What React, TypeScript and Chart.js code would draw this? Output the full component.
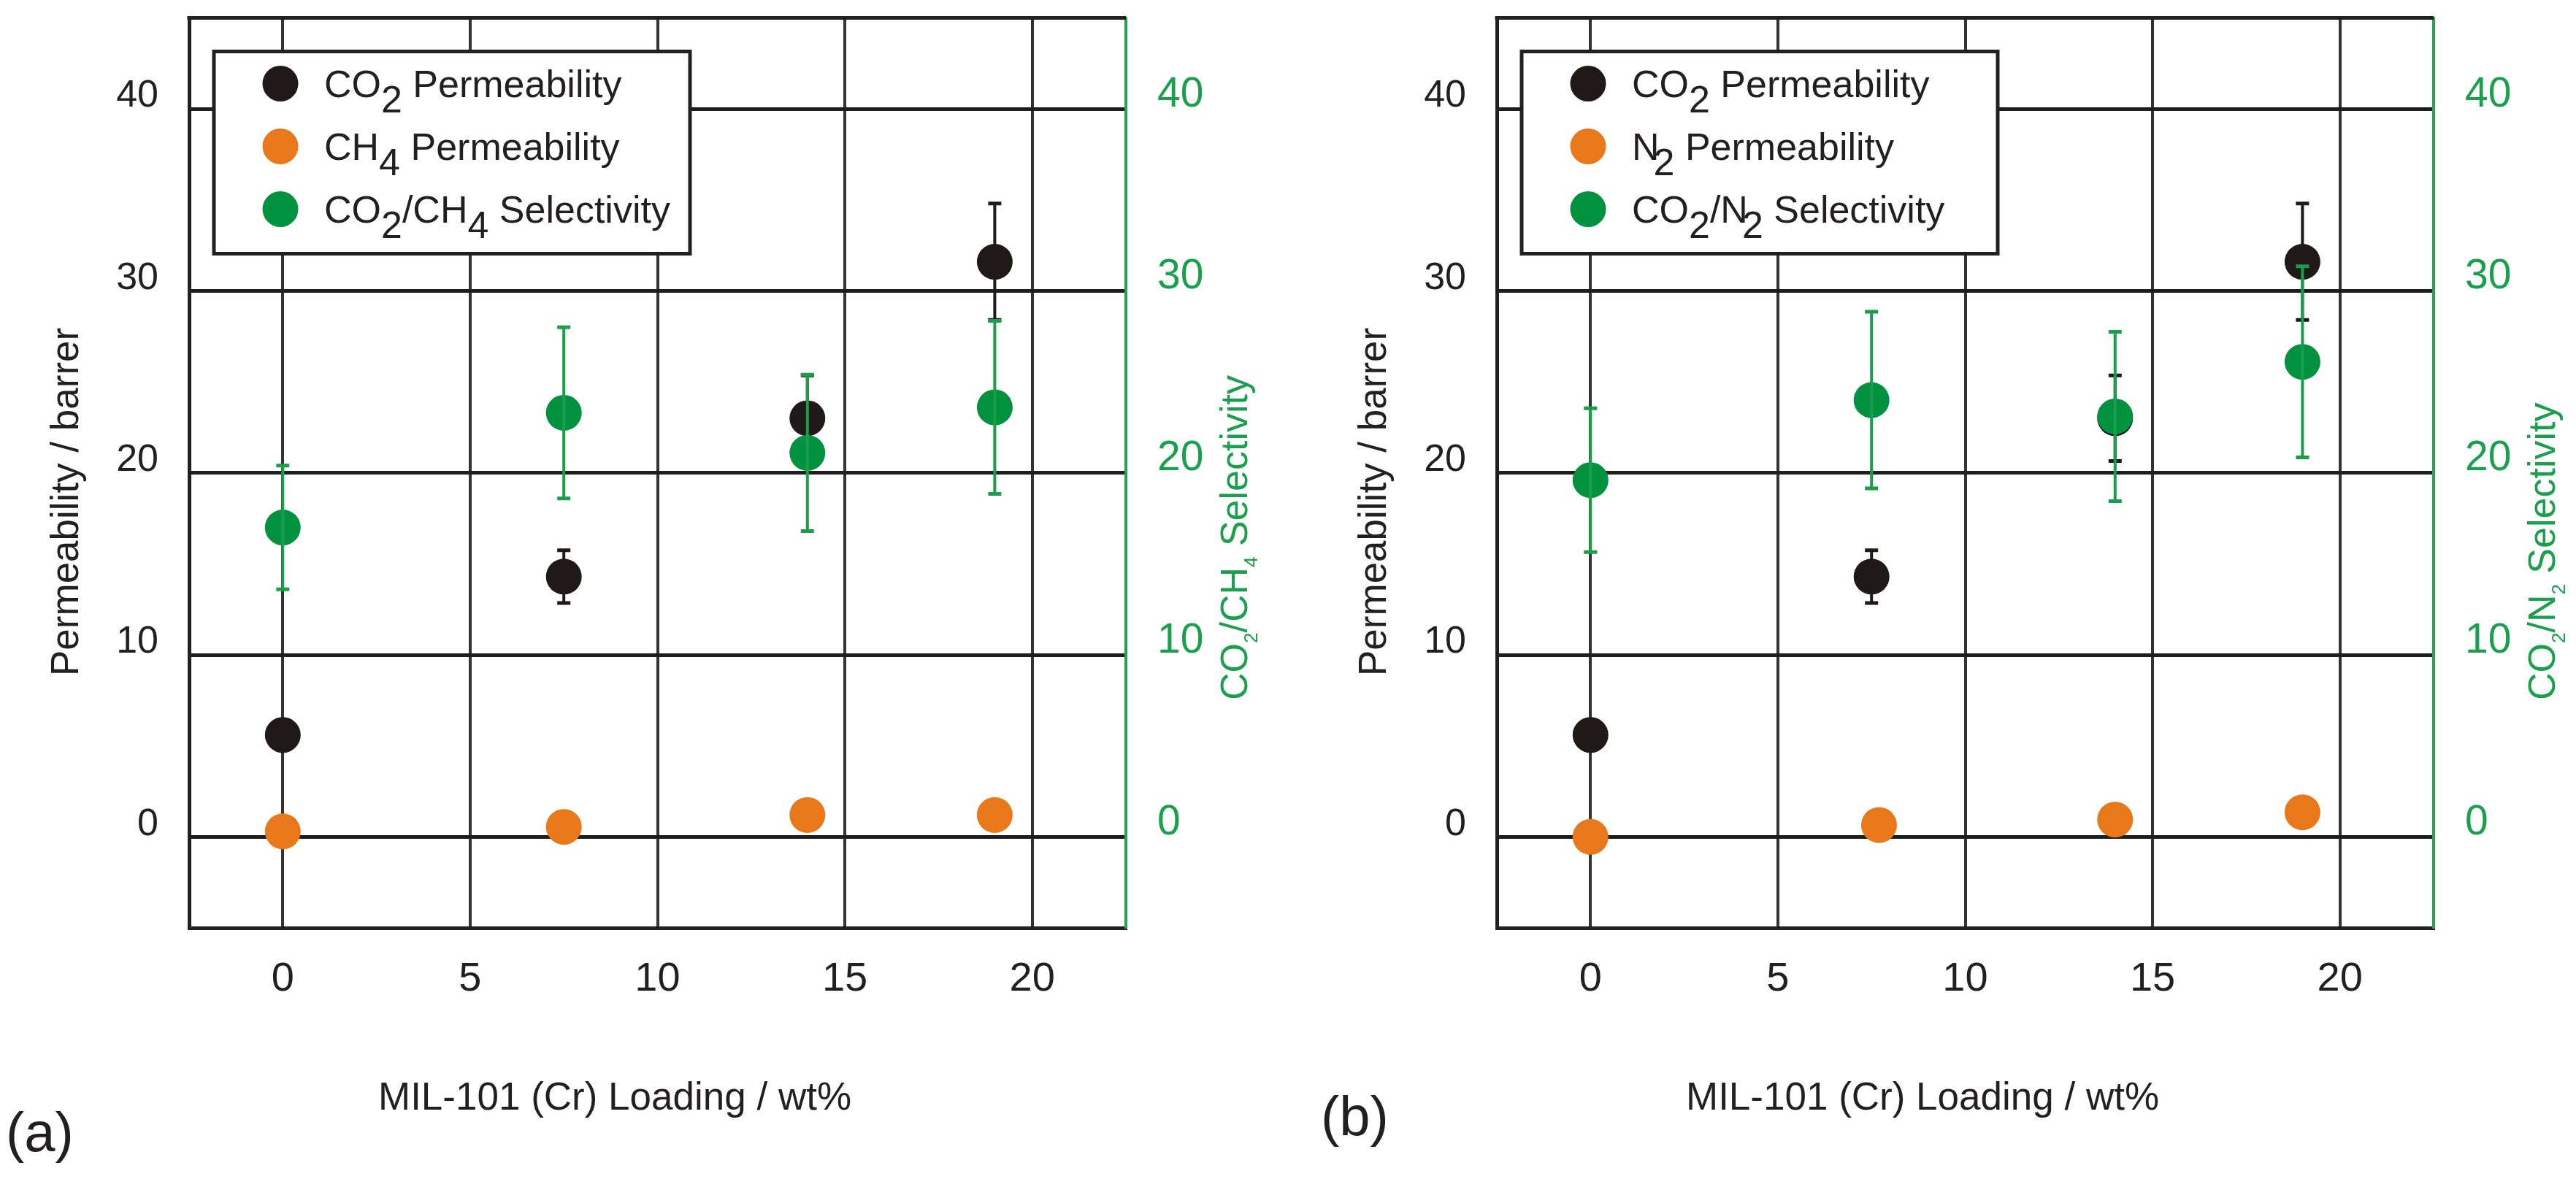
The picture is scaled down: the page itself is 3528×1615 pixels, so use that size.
import { useEffect, useRef } from "react"
import { Chart, registerables } from "chart.js"

Chart.register(...registerables)

// MIL-101 (Cr) loading, wt%
const loading = [0, 7.5, 14, 19]
const n2Loading = [0, 7.7, 14, 19]

// CO2 permeability (barrer) and its error
const co2Perm = [5.6, 14.3, 23.0, 31.6]
const co2PermErr = [0, 1.45, 2.35, 3.2]

// CH4 / N2 permeability (barrer)
const ch4Perm = [0.3, 0.55, 1.2, 1.2]
const n2Perm = [0.0, 0.65, 0.95, 1.35]

// selectivities and their errors
const co2Ch4Sel = [17.0, 23.3, 21.1, 23.6]
const co2Ch4SelErr = [3.4, 4.7, 4.3, 4.75]
const co2N2Sel = [19.6, 24.0, 23.1, 26.1]
const co2N2SelErr = [3.95, 4.85, 4.65, 5.25]

const xTicks = [0, 5, 10, 15, 20]
const yTicks = [0, 10, 20, 30, 40]

const FONT = '"Liberation Sans", Arial, sans-serif'
const TEXT = "#231f20"
const BLACK = "#1f1a17"
const ORANGE = "#e8781a"
const GREEN = "#00923f"
const GREEN_BAR = "#1a9e4a"
const GREEN_TEXT = "#1aa04c"

const W = 1737
const H = 1615

// [text, subscript?, kern before]
type Seg = [string, boolean?, number?]

function drawSegs(ctx: CanvasRenderingContext2D, segs: Seg[], x: number, y: number, size: number, subSize: number, drop: number) {
  let cx = x
  segs.forEach(([t, sub, kern]) => {
    cx += kern || 0
    ctx.font = `${sub ? subSize : size}px ${FONT}`
    ctx.fillText(t, cx, sub ? y + drop : y)
    cx += ctx.measureText(t).width
  })
  return cx
}

const errorBars = {
  id: "errorBars",
  afterDatasetDraw(chart: any, args: any) {
    const ds = chart.data.datasets[args.index]
    if (!ds.errors) return
    const ctx = chart.ctx as CanvasRenderingContext2D
    const xs = chart.scales.x
    const ys = chart.scales[ds.yAxisID || "y"]
    ctx.save()
    ctx.strokeStyle = ds.errorColor
    ds.data.forEach((p: { x: number; y: number }, i: number) => {
      const e = ds.errors[i]
      if (!e) return
      const px = xs.getPixelForValue(p.x)
      const top = ys.getPixelForValue(p.y + e)
      const bot = ys.getPixelForValue(p.y - e)
      ctx.lineWidth = 4
      ctx.beginPath()
      ctx.moveTo(px, top)
      ctx.lineTo(px, bot)
      ctx.stroke()
      ctx.lineWidth = 5
      ctx.beginPath()
      ctx.moveTo(px - 9, top)
      ctx.lineTo(px + 9, top)
      ctx.moveTo(px - 9, bot)
      ctx.lineTo(px + 9, bot)
      ctx.stroke()
    })
    ctx.restore()
  },
}

interface PanelProps {
  left: number
  tag: string
  tagX: number
  tagY: number
  gas: Seg[]
  gasX: number[]
  gasPerm: number[]
  sel: number[]
  selErr: number[]
}

function Panel({ left, tag, tagX, tagY, gas, gasX, gasPerm, sel, selErr }: PanelProps) {
  const canvasRef = useRef<HTMLCanvasElement>(null)

  useEffect(() => {
    if (!canvasRef.current) return

    const legendRows: { color: string; segs: Seg[] }[] = [
      { color: BLACK, segs: [["CO"], ["2", true], [" Permeability"]] },
      { color: ORANGE, segs: [...gas, [" Permeability"]] },
      { color: GREEN, segs: [["CO"], ["2", true], ["/"], ...gas, [" Selectivity"]] },
    ]
    const selTitle: Seg[] = [["CO"], ["2", true], ["/"], ...gas.map(([t, s]) => [t, s] as Seg), [" Selectivity"]]

    const decorations = {
      id: "decorations",
      beforeDatasetsDraw(chart: any) {
        const ctx = chart.ctx as CanvasRenderingContext2D
        const a = chart.chartArea
        ctx.save()
        ctx.strokeStyle = TEXT
        ctx.lineWidth = 5
        ctx.beginPath()
        ctx.moveTo(a.left - 2.5, a.top)
        ctx.lineTo(a.right, a.top)
        ctx.stroke()
        ctx.restore()
      },
      afterDraw(chart: any) {
        const ctx = chart.ctx as CanvasRenderingContext2D
        const a = chart.chartArea
        ctx.save()
        ctx.textBaseline = "alphabetic"
        ctx.textAlign = "left"

        // legend
        const lx = a.left + 34
        const ly = a.top + 46
        ctx.fillStyle = "#ffffff"
        ctx.fillRect(lx, ly, 652, 277)
        ctx.strokeStyle = TEXT
        ctx.lineWidth = 5
        ctx.strokeRect(lx, ly, 652, 277)
        legendRows.forEach((row, i) => {
          ctx.fillStyle = row.color
          ctx.beginPath()
          ctx.arc(a.left + 125, a.top + 90 + i * 86, 24.5, 0, Math.PI * 2)
          ctx.fill()
          ctx.fillStyle = TEXT
          drawSegs(ctx, row.segs, a.left + 185, a.top + 108 + i * 86, 52, 52, 21)
        })

        // left axis title
        ctx.fillStyle = TEXT
        ctx.save()
        ctx.translate(107, 926)
        ctx.rotate(-Math.PI / 2)
        drawSegs(ctx, [["Permeability / barrer"]], 0, 0, 53, 53, 0)
        ctx.restore()

        // right axis title
        ctx.fillStyle = GREEN_TEXT
        ctx.save()
        ctx.translate(1708, 959)
        ctx.rotate(-Math.PI / 2)
        drawSegs(ctx, selTitle, 0, 0, 52, 26, 14)
        ctx.restore()

        // x axis title
        ctx.fillStyle = TEXT
        ctx.font = `53px ${FONT}`
        ctx.textAlign = "center"
        ctx.fillText("MIL-101 (Cr) Loading / wt%", 842, 1520)

        // panel tag
        ctx.textAlign = "left"
        ctx.font = `76px ${FONT}`
        ctx.fillText(tag, tagX, tagY)
        ctx.restore()
      },
    }

    const chart = new Chart(canvasRef.current, {
      type: "scatter",
      data: {
        datasets: [
          {
            label: "CO2 Permeability",
            data: loading.map((x, i) => ({ x, y: co2Perm[i] })),
            backgroundColor: BLACK,
            order: 3,
            errors: co2PermErr,
            errorColor: BLACK,
          } as any,
          {
            label: "Permeability",
            data: gasX.map((x, i) => ({ x, y: gasPerm[i] })),
            backgroundColor: ORANGE,
            order: 2,
          },
          {
            label: "Selectivity",
            data: loading.map((x, i) => ({ x, y: sel[i] })),
            backgroundColor: GREEN,
            yAxisID: "y2",
            order: 1,
            errors: selErr,
            errorColor: GREEN_BAR,
          } as any,
        ],
      },
      options: {
        responsive: false,
        devicePixelRatio: 1,
        animation: false,
        events: [],
        layout: { padding: { top: 14, left: 0, right: 0, bottom: 0 } },
        elements: {
          point: { radius: 24.5, hoverRadius: 24.5, borderWidth: 0, pointStyle: "circle" },
        },
        plugins: {
          legend: { display: false },
          tooltip: { enabled: false },
        },
        scales: {
          x: {
            type: "linear",
            min: -2.5,
            max: 22.5,
            afterBuildTicks: (axis: any) => {
              axis.ticks = xTicks.map((value) => ({ value }))
            },
            afterFit: (s: any) => {
              s.height = 344
              s.paddingLeft = 0
              s.paddingRight = 0
            },
            grid: { color: "#333333", lineWidth: 4, drawTicks: false },
            border: { color: TEXT, width: 5 },
            ticks: { padding: 37, color: TEXT, font: { family: FONT, size: 56 } },
          },
          y: {
            type: "linear",
            position: "left",
            min: -5,
            max: 45,
            afterBuildTicks: (axis: any) => {
              axis.ticks = yTicks.map((value) => ({ value }))
            },
            afterFit: (s: any) => {
              s.width = 259
              s.paddingTop = 0
              s.paddingBottom = 0
            },
            grid: { color: "#1e1e1e", lineWidth: 5, drawTicks: false },
            border: { color: TEXT, width: 5 },
            ticks: { padding: 42, labelOffset: -17, color: TEXT, font: { family: FONT, size: 52 } },
          },
          y2: {
            type: "linear",
            position: "right",
            min: -5,
            max: 45,
            afterBuildTicks: (axis: any) => {
              axis.ticks = yTicks.map((value) => ({ value }))
            },
            afterFit: (s: any) => {
              s.width = 195
              s.paddingTop = 0
              s.paddingBottom = 0
            },
            grid: { display: false, drawTicks: false },
            border: { color: "#22a550", width: 4 },
            ticks: { padding: 43, labelOffset: -19, color: GREEN_TEXT, font: { family: FONT, size: 57 } },
          },
        },
      },
      plugins: [errorBars, decorations],
    })

    return () => {
      chart.destroy()
    }
  }, [])

  return (
    <canvas
      ref={canvasRef}
      width={W}
      height={H}
      style={{ position: "absolute", left, top: 0, width: W, height: H }}
    />
  )
}

export default function App() {
  return (
    <div style={{ position: "fixed", left: 0, top: 0, width: 3528, height: 1615, background: "#ffffff", overflow: "hidden" }}>
      <Panel
        left={0}
        tag="(a)"
        tagX={8}
        tagY={1577}
        gas={[["CH"], ["4", true]]}
        gasX={loading}
        gasPerm={ch4Perm}
        sel={co2Ch4Sel}
        selErr={co2Ch4SelErr}
      />
      <Panel
        left={1791}
        tag="(b)"
        tagX={18}
        tagY={1555}
        gas={[["N"], ["2", true, -8]]}
        gasX={n2Loading}
        gasPerm={n2Perm}
        sel={co2N2Sel}
        selErr={co2N2SelErr}
      />
    </div>
  )
}
